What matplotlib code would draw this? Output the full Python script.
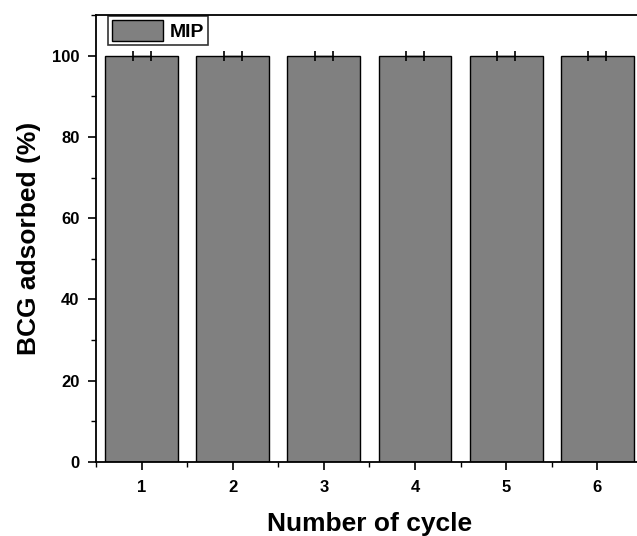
import matplotlib
matplotlib.use("Agg")
import matplotlib.pyplot as plt
from matplotlib.ticker import MultipleLocator

cycles = [1, 2, 3, 4, 5, 6]
adsorbed = [100, 100, 100, 100, 100, 100]
err = [0.1, 0.1, 0.1, 0.1, 0.1, 0.1]

plt.rcParams['font.family'] = ['Liberation Sans', 'DejaVu Sans']
plt.rcParams['font.weight'] = 'bold'

fig = plt.figure(figsize=(6.37, 5.36), dpi=100)
ax = fig.add_axes([0.151, 0.138, 0.858, 0.834])

ax.bar(cycles, adsorbed, width=0.8, color='#808080', edgecolor='black', linewidth=1.0, label='MIP', zorder=2)
ax.errorbar(cycles, adsorbed, xerr=err, fmt='none', ecolor='black', elinewidth=1.0, capsize=3.6, capthick=1.2, zorder=3)

ax.set_xlim(0.5, 6.5)
ax.set_ylim(0, 110)
ax.set_xticks(cycles)
ax.xaxis.set_minor_locator(MultipleLocator(0.5))
ax.yaxis.set_major_locator(MultipleLocator(20))
ax.yaxis.set_minor_locator(MultipleLocator(10))
ax.tick_params(axis='both', which='major', direction='out', length=6, width=1.2, labelsize=12)
ax.tick_params(axis='y', which='major', pad=6)
ax.tick_params(axis='x', which='major', pad=7)
ax.tick_params(axis='both', which='minor', direction='out', length=3.5, width=1.0)
for lab in ax.get_xticklabels() + ax.get_yticklabels():
    lab.set_fontweight('bold')
for s in ax.spines.values():
    s.set_linewidth(1.3)

ax.set_xlabel('Number of cycle', fontsize=19, fontweight='bold', labelpad=12)
ax.set_ylabel('BCG adsorbed (%)', fontsize=19, fontweight='bold', labelpad=8)

leg = ax.legend(loc='upper left', bbox_to_anchor=(0.022, 0.997), fontsize=14, frameon=True, fancybox=False,
                edgecolor='black', handlelength=2.6, handleheight=1.3, borderpad=0.2, handletextpad=0.35,
                borderaxespad=0.0)
leg.get_frame().set_linewidth(1.2)
for t in leg.get_texts():
    t.set_fontweight('bold')

fig.savefig('out.png', dpi=100)
